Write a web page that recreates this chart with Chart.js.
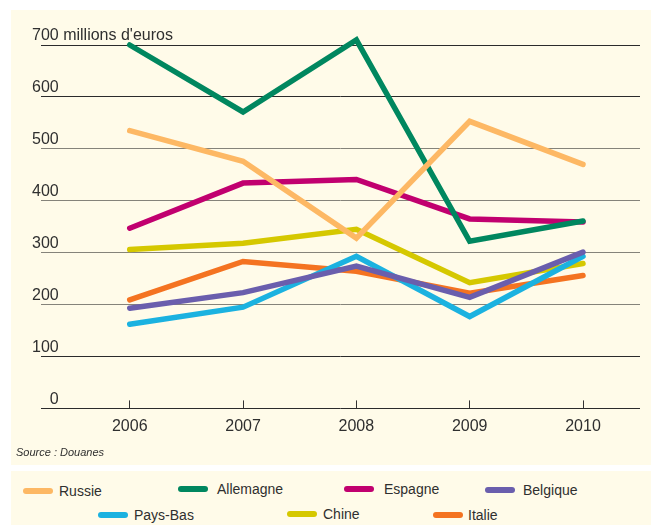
<!DOCTYPE html>
<html>
<head>
<meta charset="utf-8">
<script src="https://cdn.jsdelivr.net/npm/chart.js@4/dist/chart.umd.min.js"></script>
<style>
  html, body { margin: 0; padding: 0; background: #fff; }
  body { width: 651px; height: 525px; position: relative; overflow: hidden;
         font-family: 'Liberation Sans', Arial, sans-serif; color: #2f2f2f; }
  #panel { position: absolute; left: 11px; top: 10px; width: 640px; height: 455px; background: #fffbe9; }
  #legendPanel { position: absolute; left: 11px; top: 471px; width: 640px; height: 54px; background: #fffbe9; }
  #chart { position: absolute; left: 0; top: 0; }
  #source { position: absolute; left: 16px; top: 445px; font-size: 11px; font-style: italic; line-height: 14px; }
  .sw { position: absolute; width: 30px; height: 6px; border-radius: 3px; }
  .lt { position: absolute; font-size: 14px; line-height: 16px; }
</style>
</head>
<body>
<div id="panel"></div>
<div id="legendPanel"></div>
<canvas id="chart" width="651" height="465"></canvas>
<div id="source">Source : Douanes</div>
<div id="legend"></div>
<script>
const years = [2006, 2007, 2008, 2009, 2010];
const yTicks = [0, 100, 200, 300, 400, 500, 600, 700];

const russie = [535, 476, 328, 553, 470];
const allemagne = [700, 571, 710, 322, 361];
const espagne = [347, 434, 441, 365, 359];
const belgique = [193, 223, 274, 214, 301];
const paysBas = [162, 195, 293, 177, 293];
const chine = [306, 318, 345, 242, 279];
const italie = [209, 283, 264, 222, 256];

const seriesNames = ['Russie', 'Allemagne', 'Espagne', 'Belgique', 'Pays-Bas', 'Chine', 'Italie'];
const seriesValues = [russie, allemagne, espagne, belgique, paysBas, chine, italie];
const seriesColors = ['#fdb864', '#00875f', '#c1006f', '#6a5ead', '#1bb2e0', '#d5c800', '#f47321'];

// legend placement (swatch left, text left, row center y)
const legendLayout = [
    [23, 59, 491], [178, 217, 489], [344, 384, 489], [485, 523, 490],
    [98, 134, 515], [287, 323, 514], [433, 468, 515]
];

const font = "'Liberation Sans', Arial, sans-serif";

const datasets = seriesNames.map(function (name, i) {
    return {
        label: name,
        data: seriesValues[i].map((v, j) => ({ x: years[j], y: v })),
        borderColor: seriesColors[i],
        backgroundColor: seriesColors[i],
        borderWidth: 5.5,
        borderCapStyle: 'round',
        borderJoinStyle: 'miter',
        pointRadius: 0,
        tension: 0,
        fill: false,
        clip: false
    };
});

const ctx = document.getElementById('chart').getContext('2d');
const chart = new Chart(ctx, {
    type: 'line',
    data: { datasets: datasets },
    options: {
        responsive: false,
        animation: false,
        layout: { padding: { left: 41, right: 11, top: 45, bottom: 11.4 } },
        plugins: {
            legend: { display: false },
            tooltip: { enabled: false }
        },
        scales: {
            x: {
                type: 'linear',
                min: 2005.217,
                max: 2010.503,
                afterBuildTicks: function (scale) {
                    scale.ticks = years.map(v => ({ value: v }));
                },
                border: { display: false },
                grid: {
                    drawOnChartArea: false,
                    drawTicks: true,
                    tickLength: -8,
                    color: '#333',
                    lineWidth: 1
                },
                ticks: {
                    padding: 17,
                    color: '#2f2f2f',
                    font: { family: font, size: 16 },
                    callback: v => String(v)
                }
            },
            y: {
                min: 0,
                max: 700,
                afterBuildTicks: function (scale) {
                    scale.ticks = yTicks.map(v => ({ value: v }));
                },
                border: { display: false },
                grid: {
                    drawTicks: false,
                    lineWidth: 1,
                    color: function (c) {
                        const v = c.tick ? c.tick.value : 0;
                        return (v === 0 || v === 100 || v === 600 || v === 700) ? '#2b2b2b' : '#85837a';
                    }
                },
                ticks: {
                    mirror: true,
                    padding: -3,
                    labelOffset: -9,
                    color: '#2f2f2f',
                    font: { family: font, size: 16 },
                    callback: function (v) {
                        if (v === 700) return "700 millions d'euros";
                        if (v === 0) return '    0';
                        return String(v);
                    }
                }
            }
        }
    }
});

const legend = document.getElementById('legend');
chart.data.datasets.forEach(function (ds, i) {
    const pos = legendLayout[i];
    const sw = document.createElement('div');
    sw.className = 'sw';
    sw.style.left = pos[0] + 'px';
    sw.style.top = (pos[2] - 3) + 'px';
    sw.style.background = ds.borderColor;
    legend.appendChild(sw);
    const t = document.createElement('div');
    t.className = 'lt';
    t.style.left = pos[1] + 'px';
    t.style.top = (pos[2] - 8) + 'px';
    t.textContent = ds.label;
    legend.appendChild(t);
});
</script>
</body>
</html>
